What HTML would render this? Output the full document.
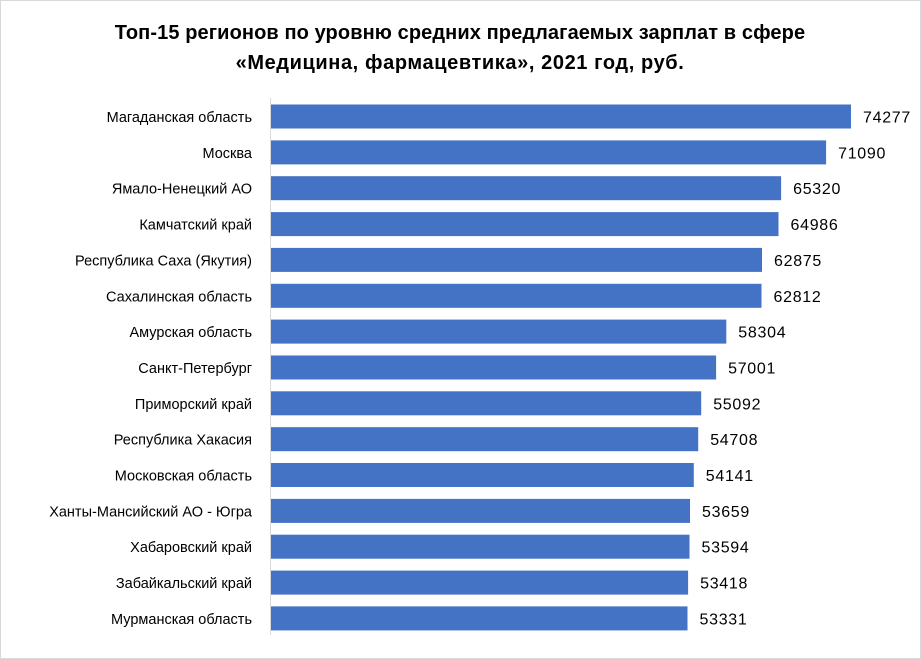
<!DOCTYPE html>
<html><head><meta charset="utf-8"><style>
body{margin:0;background:#fff}
svg{display:block}
text{font-family:"Liberation Sans",sans-serif;fill:#000}
.l{font-size:14.5px;text-anchor:end}
.v{font-size:16px;letter-spacing:0.7px}
</style></head><body>
<svg width="921" height="659" xmlns="http://www.w3.org/2000/svg">
<rect x="0.5" y="0.5" width="920" height="658" fill="#fff" stroke="#d9d9d9"/>
<text x="460" y="39" text-anchor="middle" font-size="20" font-weight="bold" letter-spacing="0.1">Топ-15 регионов по уровню средних предлагаемых зарплат в сфере</text>
<text x="460" y="69" text-anchor="middle" font-size="20" font-weight="bold" letter-spacing="0.6">«Медицина, фармацевтика», 2021 год, руб.</text>
<line x1="270.5" y1="98" x2="270.5" y2="635" stroke="#d9d9d9" stroke-width="1"/>
<g fill="#4472c4">
<rect x="271" y="104.5" width="580.0" height="24"/>
<rect x="271" y="140.4" width="555.1" height="24"/>
<rect x="271" y="176.2" width="510.1" height="24"/>
<rect x="271" y="212.1" width="507.5" height="24"/>
<rect x="271" y="247.9" width="491.0" height="24"/>
<rect x="271" y="283.8" width="490.5" height="24"/>
<rect x="271" y="319.6" width="455.3" height="24"/>
<rect x="271" y="355.5" width="445.1" height="24"/>
<rect x="271" y="391.3" width="430.2" height="24"/>
<rect x="271" y="427.2" width="427.2" height="24"/>
<rect x="271" y="463.0" width="422.8" height="24"/>
<rect x="271" y="498.9" width="419.0" height="24"/>
<rect x="271" y="534.7" width="418.5" height="24"/>
<rect x="271" y="570.6" width="417.1" height="24"/>
<rect x="271" y="606.4" width="416.5" height="24"/>
</g>
<text class="l" x="252" y="122">Магаданская область</text>
<text class="l" x="252" y="157.9">Москва</text>
<text class="l" x="252" y="193.7">Ямало-Ненецкий АО</text>
<text class="l" x="252" y="229.6">Камчатский край</text>
<text class="l" x="252" y="265.4">Республика Саха (Якутия)</text>
<text class="l" x="252" y="301.3">Сахалинская область</text>
<text class="l" x="252" y="337.1">Амурская область</text>
<text class="l" x="252" y="373">Санкт-Петербург</text>
<text class="l" x="252" y="408.8">Приморский край</text>
<text class="l" x="252" y="444.7">Республика Хакасия</text>
<text class="l" x="252" y="480.5">Московская область</text>
<text class="l" x="252" y="516.4">Ханты-Мансийский АО - Югра</text>
<text class="l" x="252" y="552.2">Хабаровский край</text>
<text class="l" x="252" y="588.1">Забайкальский край</text>
<text class="l" x="252" y="623.9">Мурманская область</text>
<text class="v" x="863.0" y="122.5">74277</text>
<text class="v" x="838.1" y="158.4">71090</text>
<text class="v" x="793.1" y="194.2">65320</text>
<text class="v" x="790.5" y="230.1">64986</text>
<text class="v" x="774.0" y="265.9">62875</text>
<text class="v" x="773.5" y="301.8">62812</text>
<text class="v" x="738.3" y="337.6">58304</text>
<text class="v" x="728.1" y="373.5">57001</text>
<text class="v" x="713.2" y="409.3">55092</text>
<text class="v" x="710.2" y="445.2">54708</text>
<text class="v" x="705.8" y="481.0">54141</text>
<text class="v" x="702.0" y="516.9">53659</text>
<text class="v" x="701.5" y="552.7">53594</text>
<text class="v" x="700.1" y="588.6">53418</text>
<text class="v" x="699.5" y="624.4">53331</text>
</svg>
</body></html>
